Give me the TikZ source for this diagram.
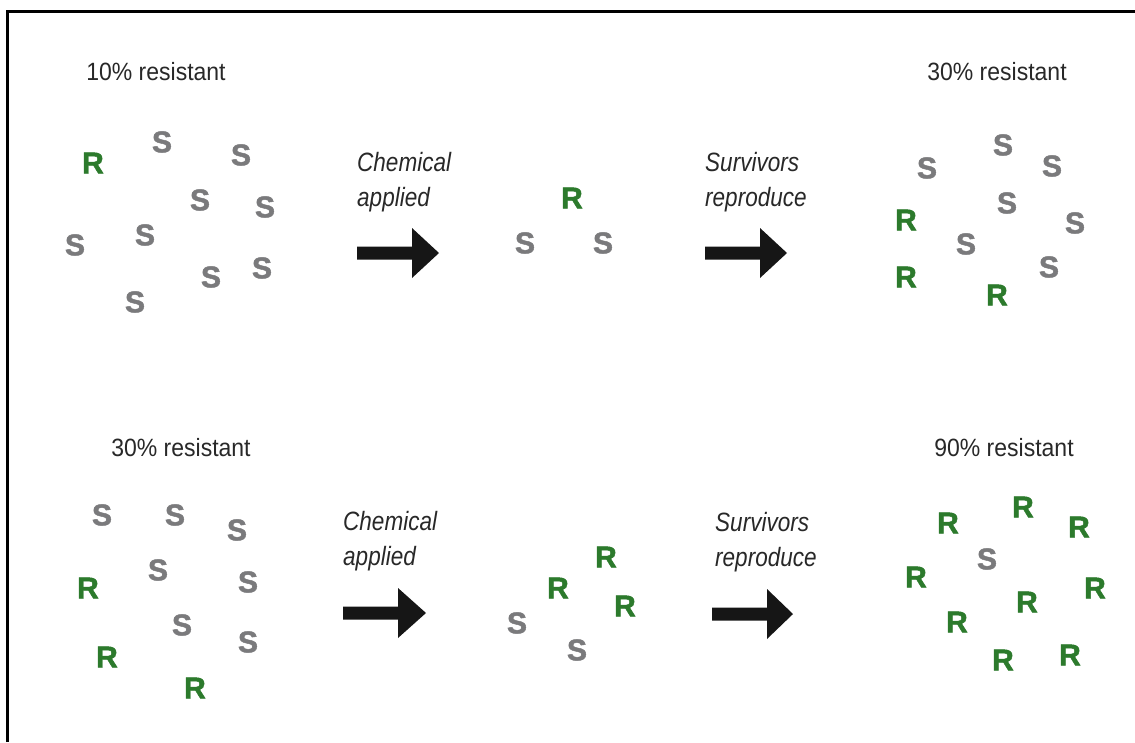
\documentclass[tikz,border=0pt]{standalone}
\usepackage{fontspec}
\setmainfont{Liberation Sans}
\newfontfamily\labfont[FakeStretch=0.92]{Liberation Sans}
\newfontfamily\capfont[FakeStretch=0.85]{Liberation Sans}
\newfontfamily\letfont[FakeBold=1.6]{Liberation Sans Bold}
\definecolor{resgreen}{RGB}{44,122,44}
\definecolor{susgray}{RGB}{122,122,124}
\definecolor{txt}{RGB}{40,40,40}
\definecolor{arr}{RGB}{22,22,22}
\tikzset{
  Rl/.style={inner sep=0pt, text=resgreen, font=\letfont\fontsize{30}{30}\selectfont},
  Sl/.style={inner sep=0pt, text=susgray, font=\letfont\fontsize{30}{30}\selectfont},
  pct/.style={inner sep=0pt, text=txt, font=\labfont\fontsize{25}{30}\selectfont},
  steplabel/.style={inner sep=0pt, anchor=north west, align=left, text=txt, font=\capfont\itshape\fontsize{26.5}{35}\selectfont},
  blockarrow/.style={fill=arr, draw=none},
  frameline/.style={line width=3pt, line cap=butt}
}
\begin{document}
\begin{tikzpicture}[x=1pt,y=-1pt]
\useasboundingbox (0,0) rectangle (1135,742);
\coordinate (fb) at (7,742);
\coordinate (fc) at (7,11);
\coordinate (fr) at (1135,11);
\draw[frameline] (fb) -- (fc) -- (fr);

% ---------- top row ----------
\node[pct] (p1) at (156,72) {10\% resistant};
\node[Rl] (a1) at (93,163) {R};
\node[Sl] (a2) at (162,142) {S};
\node[Sl] (a3) at (241,155) {S};
\node[Sl] (a4) at (200,200) {S};
\node[Sl] (a5) at (265,207) {S};
\node[Sl] (a6) at (145,235) {S};
\node[Sl] (a7) at (75,245) {S};
\node[Sl] (a8) at (211,277) {S};
\node[Sl] (a9) at (262,268) {S};
\node[Sl] (a10) at (135,302) {S};

\node[steplabel] (c1) at (357,152) {Chemical\\applied};
\coordinate (ar1) at (357,253);
\fill[blockarrow] (ar1) ++(0,-6.5) -- ++(55,0) -- ++(0,-18.5) -- ++(27,25) -- ++(-27,25) -- ++(0,-18.5) -- ++(-55,0) -- cycle;

\node[Rl] (b1) at (572,198) {R};
\node[Sl] (b2) at (525,243) {S};
\node[Sl] (b3) at (603,243) {S};

\node[steplabel] (c2) at (705,152) {Survivors\\reproduce};
\coordinate (ar2) at (705,253);
\fill[blockarrow] (ar2) ++(0,-6.5) -- ++(55,0) -- ++(0,-18.5) -- ++(27,25) -- ++(-27,25) -- ++(0,-18.5) -- ++(-55,0) -- cycle;

\node[pct] (p3) at (997,72) {30\% resistant};
\node[Sl] (d1) at (1003,145) {S};
\node[Sl] (d2) at (927,168) {S};
\node[Sl] (d3) at (1052,166) {S};
\node[Sl] (d4) at (1007,203) {S};
\node[Rl] (d5) at (906,220) {R};
\node[Sl] (d6) at (1075,223) {S};
\node[Sl] (d7) at (966,244) {S};
\node[Sl] (d8) at (1049,267) {S};
\node[Rl] (d9) at (906,277) {R};
\node[Rl] (d10) at (997,295) {R};

% ---------- bottom row ----------
\node[pct] (p4) at (181,448) {30\% resistant};
\node[Sl] (e1) at (102,515) {S};
\node[Sl] (e2) at (175,515) {S};
\node[Sl] (e3) at (237,530) {S};
\node[Sl] (e4) at (158,570) {S};
\node[Sl] (e5) at (248,582) {S};
\node[Rl] (e6) at (88,588) {R};
\node[Sl] (e7) at (182,625) {S};
\node[Sl] (e8) at (248,642) {S};
\node[Rl] (e9) at (107,657) {R};
\node[Rl] (e10) at (195,688) {R};

\node[steplabel] (c3) at (343,511) {Chemical\\applied};
\coordinate (ar3) at (343,613);
\fill[blockarrow] (ar3) ++(0,-6.5) -- ++(55,0) -- ++(0,-18.5) -- ++(28,25) -- ++(-28,25) -- ++(0,-18.5) -- ++(-55,0) -- cycle;

\node[Rl] (f1) at (606,557) {R};
\node[Rl] (f2) at (558,588) {R};
\node[Rl] (f3) at (625,606) {R};
\node[Sl] (f4) at (517,623) {S};
\node[Sl] (f5) at (577,650) {S};

\node[steplabel] (c4) at (715,512) {Survivors\\reproduce};
\coordinate (ar4) at (712,614);
\fill[blockarrow] (ar4) ++(0,-6.5) -- ++(55,0) -- ++(0,-18.5) -- ++(26,25) -- ++(-26,25) -- ++(0,-18.5) -- ++(-55,0) -- cycle;

\node[pct] (p6) at (1004,448) {90\% resistant};
\node[Rl] (g1) at (1023,507) {R};
\node[Rl] (g2) at (948,523) {R};
\node[Rl] (g3) at (1079,527) {R};
\node[Sl] (g4) at (987,559) {S};
\node[Rl] (g5) at (916,577) {R};
\node[Rl] (g6) at (1095,588) {R};
\node[Rl] (g7) at (1027,602) {R};
\node[Rl] (g8) at (957,622) {R};
\node[Rl] (g9) at (1003,660) {R};
\node[Rl] (g10) at (1070,655) {R};
\end{tikzpicture}
\end{document}
